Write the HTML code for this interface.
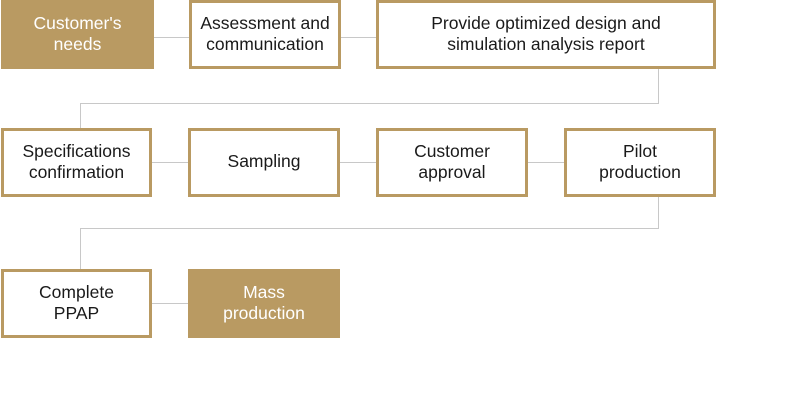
<!DOCTYPE html>
<html><head><style>
body{margin:0;width:800px;height:400px;background:#fff;position:relative;overflow:hidden;font-family:"Liberation Sans",sans-serif;}
.b{position:absolute;box-sizing:border-box;border:3px solid #b99a62;background:#fff;color:#1a1a1a;font-size:17.5px;line-height:21px;display:flex;align-items:center;justify-content:center;text-align:center;padding-bottom:2px;}
.f{background:#b99a62;color:#fff;}
.l{position:absolute;background:#c8c8c8;}
</style></head><body>
<div class="l" style="left:154px;top:37px;width:222px;height:1px"></div>
<div class="l" style="left:658px;top:69px;width:1px;height:35px"></div>
<div class="l" style="left:80px;top:103px;width:579px;height:1px"></div>
<div class="l" style="left:80px;top:103px;width:1px;height:26px"></div>
<div class="l" style="left:151px;top:162px;width:413px;height:1px"></div>
<div class="l" style="left:658px;top:197px;width:1px;height:32px"></div>
<div class="l" style="left:80px;top:228px;width:579px;height:1px"></div>
<div class="l" style="left:80px;top:228px;width:1px;height:42px"></div>
<div class="l" style="left:151px;top:303px;width:37px;height:1px"></div>

<div class="b f" style="left:1px;top:0;width:153px;height:69px">Customer's<br>needs</div>
<div class="b" style="left:189px;top:0;width:152px;height:69px">Assessment and<br>communication</div>
<div class="b" style="left:376px;top:0;width:340px;height:69px">Provide optimized design and<br>simulation analysis report</div>
<div class="b" style="left:1px;top:128px;width:151px;height:69px">Specifications<br>confirmation</div>
<div class="b" style="left:188px;top:128px;width:152px;height:69px">Sampling</div>
<div class="b" style="left:376px;top:128px;width:152px;height:69px">Customer<br>approval</div>
<div class="b" style="left:564px;top:128px;width:152px;height:69px">Pilot<br>production</div>
<div class="b" style="left:1px;top:269px;width:151px;height:69px">Complete<br>PPAP</div>
<div class="b f" style="left:188px;top:269px;width:152px;height:69px">Mass<br>production</div>
</body></html>
